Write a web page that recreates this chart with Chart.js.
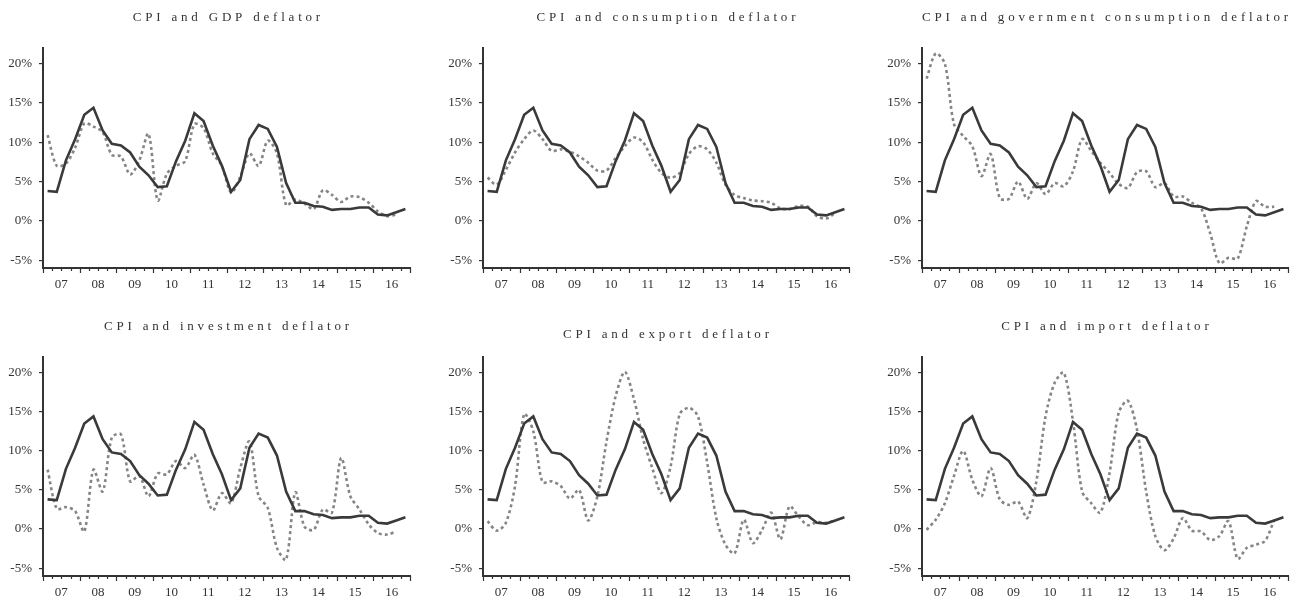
<!DOCTYPE html>
<html>
<head>
<meta charset="utf-8">
<script src="https://cdn.jsdelivr.net/npm/chart.js@4.4.1/dist/chart.umd.min.js"></script>
<style>
  html, body { margin: 0; padding: 0; background: #ffffff; }
  body { width: 1298px; height: 599px; position: relative; overflow: hidden; }
  canvas { position: absolute; }
</style>
</head>
<body>
<canvas id="p0"></canvas>
<canvas id="p1"></canvas>
<canvas id="p2"></canvas>
<canvas id="p3"></canvas>
<canvas id="p4"></canvas>
<canvas id="p5"></canvas>
<script>
// Year tick labels (two-digit years) and quarterly categories, 2007Q1 - 2016Q4
const yearLabels = ['07', '08', '09', '10', '11', '12', '13', '14', '15', '16'];
const quarterLabels = [];
yearLabels.forEach(y => { for (let q = 1; q <= 4; q++) quarterLabels.push(y + 'Q' + q); });
const yTickValues = [-5, 0, 5, 10, 15, 20];

// Year-on-year inflation, percent
const cpi = [3.8, 3.7, 7.7, 10.4, 13.5, 14.4, 11.5, 9.8, 9.6, 8.7, 6.9, 5.8, 4.3, 4.4, 7.6, 10.2,
             13.7, 12.7, 9.6, 7.0, 3.7, 5.2, 10.4, 12.2, 11.7, 9.4, 4.8, 2.3, 2.3, 1.9, 1.8, 1.4,
             1.5, 1.5, 1.7, 1.7, 0.8, 0.7, 1.1, 1.5];
const gdpDeflator = [10.9, 7.0, 7.3, 9.3, 12.4, 12.0, 11.3, 8.4, 8.2, 5.9, 7.7, 11.1, 2.6, 6.0, 7.0, 7.6,
                     12.3, 11.8, 8.6, 7.0, 3.6, 5.6, 8.6, 7.0, 10.2, 8.6, 2.0, 2.7, 2.2, 1.5, 3.9, 3.3,
                     2.4, 3.1, 3.0, 2.3, 1.2, 0.6, 0.8];
const consumptionDeflator = [5.5, 4.6, 6.5, 8.7, 10.4, 11.5, 10.4, 8.9, 9.1, 8.8, 8.2, 7.4, 6.4, 6.4, 8.0, 9.5,
                             10.6, 10.0, 7.8, 6.1, 5.5, 6.1, 8.5, 9.5, 9.1, 7.4, 4.6, 3.3, 2.9, 2.6, 2.5, 2.3,
                             1.6, 1.5, 1.9, 1.8, 0.6, 0.3, 1.0];
const govConsumptionDeflator = [18.1, 21.3, 20.0, 12.3, 10.8, 9.5, 5.7, 8.5, 2.9, 2.8, 5.0, 2.8, 4.8, 3.4, 4.8, 4.4,
                                6.3, 10.4, 8.9, 7.4, 6.1, 4.7, 4.2, 6.2, 6.3, 4.3, 4.8, 3.1, 3.1, 2.3, 1.6, -1.6,
                                -5.4, -4.7, -4.8, -0.7, 2.5, 1.8, 1.8];
const investmentDeflator = [7.6, 2.6, 2.8, 2.3, -0.3, 7.6, 4.8, 11.7, 12.1, 6.1, 6.8, 4.2, 7.1, 7.0, 8.7, 7.8,
                            9.5, 5.7, 2.4, 4.6, 3.3, 7.8, 11.2, 4.2, 2.7, -2.4, -3.9, 4.7, 0.3, -0.1, 2.5, 2.1,
                            9.1, 4.2, 2.5, 0.6, -0.5, -0.7, -0.3];
const exportDeflator = [1.0, -0.2, 0.8, 5.5, 14.7, 12.5, 6.0, 6.1, 5.5, 3.9, 5.0, 1.1, 4.2, 11.2, 17.0, 20.1,
                        16.6, 11.5, 7.8, 4.6, 8.0, 14.7, 15.5, 14.4, 8.5, 1.4, -2.0, -3.1, 1.2, -1.8, -0.1, 2.1,
                        -1.3, 2.9, 1.6, 0.5, 0.9, 0.8, 1.1];
const importDeflator = [-0.1, 1.2, 3.3, 6.8, 10.0, 6.3, 4.2, 7.8, 3.8, 3.1, 3.5, 1.4, 6.1, 14.4, 18.7, 20.0,
                        13.8, 4.8, 3.3, 2.1, 7.2, 14.9, 16.4, 12.7, 4.8, -0.9, -2.7, -1.2, 1.4, -0.2, -0.3, -1.4,
                        -0.9, 1.0, -3.8, -2.4, -2.0, -1.5, 1.2];

const panelTitles = [
  'CPI and GDP deflator',
  'CPI and consumption deflator',
  'CPI and government consumption deflator',
  'CPI and investment deflator',
  'CPI and export deflator',
  'CPI and import deflator'
];
const deflatorSeries = [gdpDeflator, consumptionDeflator, govConsumptionDeflator,
                        investmentDeflator, exportDeflator, importDeflator];

// Page geometry for the 3 x 2 grid of panels
const columns = [
  { left: 0,   width: 430, axisWidth: 43, padRight: 20 },
  { left: 430, width: 430, axisWidth: 53, padRight: 11 },
  { left: 860, width: 438, axisWidth: 62, padRight: 10 }
];
const rows = [
  { top: 0,   height: 300, padTop: 48, xAxisHeight: 32 },
  { top: 300, height: 299, padTop: 57, xAxisHeight: 23 }
];
const titleY = [18, 18, 18, 27, 35, 27];

const INK = '#333333';
const SOLID = '#3a3a3a';
const DASHED = '#858585';
const FONT = '"Liberation Serif", "Times New Roman", serif';

// Letter-spaced panel title, centred over the plot area
const panelTitlePlugin = {
  id: 'panelTitle',
  afterDraw(chart, args, opts) {
    const { ctx, chartArea } = chart;
    ctx.save();
    ctx.font = '13px ' + FONT;
    ctx.fillStyle = INK;
    ctx.textAlign = 'center';
    ctx.textBaseline = 'middle';
    const spacing = 3.8;
    if ('letterSpacing' in ctx) ctx.letterSpacing = spacing + 'px';
    ctx.fillText(opts.text, (chartArea.left + chartArea.right) / 2 + spacing / 2, opts.y);
    ctx.restore();
  }
};

// Quarter tick marks below the time axis: long at year boundaries, short otherwise
const quarterTicksPlugin = {
  id: 'quarterTicks',
  afterDraw(chart) {
    const scale = chart.scales.yr;
    const { ctx, chartArea } = chart;
    ctx.save();
    ctx.strokeStyle = INK;
    ctx.lineWidth = 1.2;
    ctx.beginPath();
    for (let v = 0; v <= quarterLabels.length; v++) {
      const px = Math.round(scale.getPixelForValue(v)) + 0.5;
      const len = (v % 4 === 0) ? 5 : 3;
      ctx.moveTo(px, chartArea.bottom);
      ctx.lineTo(px, chartArea.bottom + len);
    }
    ctx.stroke();
    ctx.restore();
  }
};

deflatorSeries.forEach((series, idx) => {
  const col = columns[idx % 3];
  const row = rows[Math.floor(idx / 3)];
  const canvas = document.getElementById('p' + idx);
  canvas.width = col.width;
  canvas.height = row.height;
  canvas.style.left = col.left + 'px';
  canvas.style.top = row.top + 'px';

  new Chart(canvas, {
    type: 'line',
    data: {
      labels: quarterLabels,
      datasets: [
        {
          label: 'CPI',
          data: cpi,
          borderColor: SOLID,
          borderWidth: 2.6,
          pointRadius: 0,
          tension: 0,
          fill: false
        },
        {
          label: panelTitles[idx].replace('CPI and ', ''),
          data: series,
          borderColor: DASHED,
          borderWidth: 2.6,
          borderDash: [3, 3],
          borderCapStyle: 'butt',
          pointRadius: 0,
          tension: 0.3,
          fill: false
        }
      ]
    },
    options: {
      responsive: false,
      animation: false,
      events: [],
      layout: { padding: { top: row.padTop, right: col.padRight, bottom: 0, left: 0 } },
      plugins: {
        legend: { display: false },
        tooltip: { enabled: false },
        title: { display: false },
        panelTitle: { text: panelTitles[idx], y: titleY[idx] }
      },
      scales: {
        x: {
          type: 'category',
          display: false,
          offset: true
        },
        yr: {
          type: 'linear',
          position: 'bottom',
          min: 0,
          max: quarterLabels.length,
          afterBuildTicks: scale => {
            scale.ticks = yearLabels.map((_, k) => ({ value: k * 4 + 2 }));
          },
          afterFit: scale => { scale.height = row.xAxisHeight; },
          grid: { display: false, drawTicks: false },
          border: { display: true, color: INK, width: 2 },
          ticks: {
            autoSkip: false,
            maxRotation: 0,
            padding: 9,
            color: INK,
            font: { family: FONT, size: 13 },
            callback: v => yearLabels[(v - 2) / 4]
          }
        },
        y: {
          min: -6,
          max: 22,
          afterBuildTicks: scale => {
            scale.ticks = yTickValues.map(v => ({ value: v }));
          },
          afterFit: scale => { scale.width = col.axisWidth; },
          grid: {
            display: true,
            drawOnChartArea: false,
            drawTicks: true,
            tickLength: 4,
            color: INK,
            lineWidth: 1.2
          },
          border: { display: true, color: INK, width: 2 },
          ticks: {
            padding: 7,
            color: INK,
            font: { family: FONT, size: 13 },
            callback: v => v + '%'
          }
        }
      }
    },
    plugins: [panelTitlePlugin, quarterTicksPlugin]
  });
});
</script>
</body>
</html>
